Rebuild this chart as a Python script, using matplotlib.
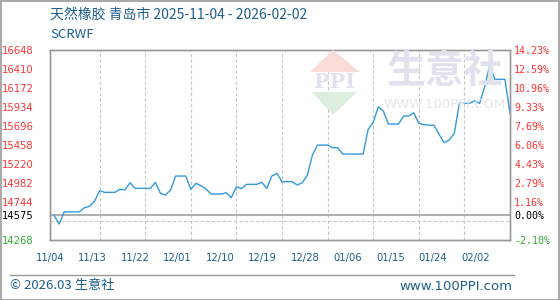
import matplotlib.pyplot as plt
from matplotlib.patches import Polygon, Rectangle

plt.rcParams['font.family'] = ['Noto Sans CJK SC', 'DejaVu Sans']

# daily price, 2025-11-04 .. 2026-02-02 (day 0 .. 90)
prices = [14575, 14468, 14620, 14620, 14620, 14620, 14672, 14689, 14755, 14884,
          14864, 14864, 14864, 14902, 14895, 14984, 14914, 14914, 14914, 14914,
          14989, 14852, 14830, 14893, 15068, 15068, 15068, 14902, 14977, 14947,
          14905, 14843, 14843, 14843, 14859, 14797, 14934, 14910, 14964, 14964,
          14964, 14989, 14914, 15070, 15102, 14997, 14997, 14997, 14955, 14984,
          15080, 15330, 15455, 15455, 15455, 15422, 15422, 15343, 15343, 15343,
          15343, 15343, 15650, 15739, 15934, 15880, 15718, 15718, 15718, 15818,
          15818, 15859, 15727, 15710, 15705, 15702, 15590, 15484, 15518, 15600,
          15977, 15977, 15977, 16009, 15977, 16184, 16455, 16277, 16277, 16277,
          15852]
days = list(range(len(prices)))

base_price = 14575
y_min, y_max = 14268, 16648
left_ticks = [16648, 16410, 16172, 15934, 15696, 15458, 15220, 14982, 14744, 14575, 14268]
left_labels = ['16648', '16410', '16172', '15934', '15696', '15458', '15220', '14982', '14744', '14575', '14268']
right_labels = ['14.23%', '12.59%', '10.96%', '9.33%', '7.69%', '6.06%', '4.43%', '2.79%', '1.16%', '0.00%', '-2.10%']
grid_y = [14506, 14744, 14982, 15220, 15458, 15696, 15934, 16172, 16410]
grid_x = [9, 18, 27, 36, 45, 54, 63, 72, 81]
date_labels = ['11/04', '11/13', '11/22', '12/01', '12/10', '12/19', '12/28', '01/06', '01/15', '01/24', '02/02']
date_pos = [-0.8, 7.6, 16.0, 24.4, 32.8, 41.2, 49.6, 58.0, 66.4, 74.8, 83.2]

title_col = '#1d5e8c'
red = '#ff3333'
green = '#33aa33'

fig = plt.figure(figsize=(5.6, 3.0), dpi=100)
ax = fig.add_axes([50 / 560, 60 / 300, 460 / 560, 190.3 / 300])

# watermark
fig.patches.append(Polygon([[310 / 560, 1 - 72 / 300], [333 / 560, 1 - 50 / 300], [360 / 560, 1 - 72 / 300]],
                           closed=True, transform=fig.transFigure, fc='#f9dcd8', ec='none', zorder=0))
fig.patches.append(Polygon([[312 / 560, 1 - 92 / 300], [333 / 560, 1 - 115 / 300], [357 / 560, 1 - 92 / 300]],
                           closed=True, transform=fig.transFigure, fc='#dcefdf', ec='none', zorder=0))
fig.text(335 / 560, 1 - 82 / 300, 'PPI', fontsize=15, fontweight='bold', color='#dfe3ee',
         ha='center', va='center', family='DejaVu Serif', zorder=0)
fig.text(445 / 560, 1 - 71 / 300, '生意社', fontsize=28, fontweight='bold', color='#e0e3ed',
         ha='center', va='center', zorder=0)
fig.text(445 / 560, 1 - 105 / 300, 'WWW.100PPI.COM', fontsize=9.5, color='#e6e6ea',
         ha='center', va='center', family='DejaVu Sans', zorder=0)
ax.patch.set_alpha(0)

ax.plot(days, prices, color='#3399dd', lw=1.0, zorder=3)
ax.axhline(base_price, color='#999999', lw=1.1, zorder=2)

ax.set_xlim(0, 90)
ax.set_ylim(y_min, y_max)

ax.set_yticks(grid_y, minor=True)
ax.set_xticks(grid_x, minor=True)
ax.grid(which='minor', color='#c8c8c8', ls=(0, (3, 2)), lw=0.8)
ax.tick_params(which='both', length=0)

ax.set_xticks(date_pos)
ax.set_xticklabels(date_labels, fontsize=7.2, color=title_col, family='DejaVu Sans')
ax.tick_params(axis='x', pad=9)

ax.set_yticks(left_ticks)
ax.set_yticklabels(left_labels, fontsize=7.2, family='DejaVu Sans')
ax.tick_params(axis='y', pad=12)
for lab in ax.get_yticklabels():
    lab.set_color(red)
ax.get_yticklabels()[-2].set_color('black')
ax.get_yticklabels()[-1].set_color(green)

ax2 = ax.twinx()
ax2.set_ylim(y_min, y_max)
ax2.set_yticks(left_ticks)
ax2.set_yticklabels(right_labels, fontsize=7.2, family='DejaVu Sans Mono')
ax2.tick_params(axis='y', length=0, pad=3)
for lab in ax2.get_yticklabels():
    lab.set_color(red)
ax2.get_yticklabels()[-2].set_color('black')
ax2.get_yticklabels()[-1].set_color(green)

for a in (ax, ax2):
    for s in a.spines.values():
        s.set_color('#999999')
        s.set_linewidth(1.0)

fig.text(50 / 560, 1 - 15 / 300, '天然橡胶 青岛市 2025-11-04 - 2026-02-02', fontsize=10,
         color=title_col, ha='left', va='center')
fig.text(50 / 560, 1 - 35 / 300, 'SCRWF', fontsize=9.5, color=title_col, ha='left', va='center')

# footer
fig.add_artist(plt.Line2D([10 / 560, 514 / 560], [1 - 275 / 300, 1 - 275 / 300],
                          transform=fig.transFigure, color='#999999', lw=1.0))
fig.text(10 / 560, 1 - 286 / 300, '© 2026.03 生意社', fontsize=9.5, color=title_col,
         ha='left', va='center')
fig.text(512 / 560, 1 - 286 / 300, 'www.100PPI.com', fontsize=9.5, color=title_col,
         ha='right', va='center', family='DejaVu Sans')
fig.patches.append(Rectangle((0.5 / 560, 0.5 / 300), 558 / 560, 298.5 / 300, transform=fig.transFigure,
                             fill=False, ec='#999999', lw=1.2))

fig.savefig('out.png', dpi=100)
